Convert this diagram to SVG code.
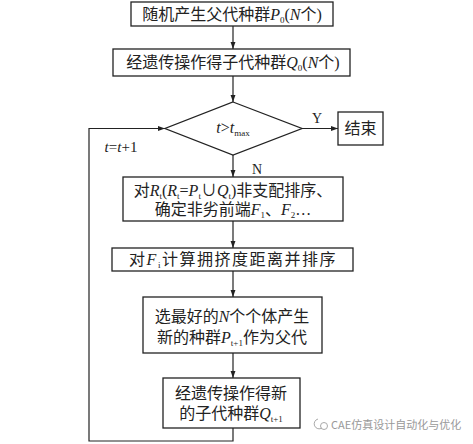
<svg xmlns="http://www.w3.org/2000/svg" width="473" height="444" viewBox="0 0 473 444">
<defs>
<marker id="ah" viewBox="0 0 10 10" refX="10" refY="5" markerWidth="7" markerHeight="7" markerUnits="userSpaceOnUse" orient="auto">
<path d="M0,1.5 L10,5 L0,8.5 Z" fill="#222"/>
</marker>
<style>
.box{fill:#fff;stroke:#222;stroke-width:1.3}
.ln{fill:none;stroke:#222;stroke-width:1.2}
.t{font-family:"Liberation Serif","Noto Sans CJK SC",serif;font-size:16px;fill:#222;text-anchor:middle}
.i{font-style:italic}
.s{font-size:9px}
.wm{font-family:"Noto Sans CJK SC","Liberation Sans",sans-serif;font-size:11px;fill:#999}
</style>
</defs>
<rect width="473" height="444" fill="#fff"/>
<g id="connectors">
<line class="ln" x1="233" y1="26" x2="233" y2="49" marker-end="url(#ah)"/>
<line class="ln" x1="233" y1="76" x2="233" y2="102" marker-end="url(#ah)"/>
<line class="ln" x1="302" y1="128.5" x2="338" y2="128.5" marker-end="url(#ah)"/>
<line class="ln" x1="233" y1="155" x2="233" y2="177" marker-end="url(#ah)"/>
<line class="ln" x1="233" y1="221" x2="233" y2="248" marker-end="url(#ah)"/>
<line class="ln" x1="233" y1="271" x2="233" y2="297" marker-end="url(#ah)"/>
<line class="ln" x1="233" y1="353" x2="233" y2="378" marker-end="url(#ah)"/>
<polyline class="ln" points="233,428 233,441 89,441 89,128.5 165,128.5" marker-end="url(#ah)"/>
<text class="t" x="317" y="123" style="font-size:14px">Y</text>
<text class="t" x="257" y="174" style="font-size:14px">N</text>
<text class="t" x="121" y="152" style="font-size:15px"><tspan class="i">t</tspan>=<tspan class="i">t</tspan>+1</text>
</g>
<g id="n1">
<rect class="box" x="131" y="2" width="202" height="24"/>
<text class="t" x="232" y="20">随机产生父代种群<tspan class="i">P</tspan><tspan class="s" dy="3">0</tspan><tspan dy="-3">(</tspan><tspan class="i">N</tspan>个)</text>
</g>
<g id="n2">
<rect class="box" x="113" y="49" width="237" height="27"/>
<text class="t" x="233" y="68">经遗传操作得子代种群<tspan class="i">Q</tspan><tspan class="s" dy="3">0</tspan><tspan dy="-3">(</tspan><tspan class="i">N</tspan>个)</text>
</g>
<g id="decision">
<polygon class="box" points="233,102 302,128.5 233,155 165,128.5"/>
<text class="t" x="233" y="133" style="font-size:16px"><tspan class="i">t</tspan>&gt;<tspan class="i">t</tspan><tspan class="s" dy="3">max</tspan></text>
</g>
<g id="end">
<rect class="box" x="338" y="112" width="45" height="33"/>
<text class="t" x="360.5" y="134">结束</text>
</g>
<g id="n3">
<rect class="box" x="123" y="177" width="220" height="44"/>
<text class="t" x="233" y="196">对<tspan class="i">R</tspan><tspan class="s" dy="3">t</tspan><tspan dy="-3">(</tspan><tspan class="i">R</tspan><tspan class="s" dy="3">t</tspan><tspan dy="-3">=</tspan><tspan class="i">P</tspan><tspan class="s" dy="3">t</tspan><tspan dy="-3">∪</tspan><tspan class="i">Q</tspan><tspan class="s" dy="3">t</tspan><tspan dy="-3">)非支配排序、</tspan></text>
<text class="t" x="233" y="215">确定非劣前端<tspan class="i">F</tspan><tspan class="s" dy="3">1</tspan><tspan dy="-3">、</tspan><tspan class="i">F</tspan><tspan class="s" dy="3">2</tspan><tspan dy="-3">…</tspan></text>
</g>
<g id="n4">
<rect class="box" x="112" y="248" width="241" height="23"/>
<text class="t" x="233" y="265" letter-spacing="1.5">对<tspan class="i">F</tspan><tspan class="s" dy="3">i</tspan><tspan dy="-3">计算拥挤度距离并排序</tspan></text>
</g>
<g id="n5">
<rect class="box" x="143" y="297" width="179" height="56"/>
<text class="t" x="232" y="322">选最好的<tspan class="i">N</tspan>个个体产生</text>
<text class="t" x="232" y="343">新的种群<tspan class="i">P</tspan><tspan class="s" dy="3">t+1</tspan><tspan dy="-3">作为父代</tspan></text>
</g>
<g id="n6">
<rect class="box" x="163" y="378" width="137" height="50"/>
<text class="t" x="231" y="399">经遗传操作得新</text>
<text class="t" x="231" y="419">的子代种群<tspan class="i">Q</tspan><tspan class="s" dy="3">t+1</tspan></text>
</g>
<g id="watermark">
<path d="M318,419 a5,5 0 1 0 4,9" fill="none" stroke="#aaa" stroke-width="1"/>
<circle cx="324" cy="426" r="3.5" fill="none" stroke="#aaa" stroke-width="1"/>
<text class="wm" x="331" y="429">CAE仿真设计自动化与优化</text>
</g>
</svg>
